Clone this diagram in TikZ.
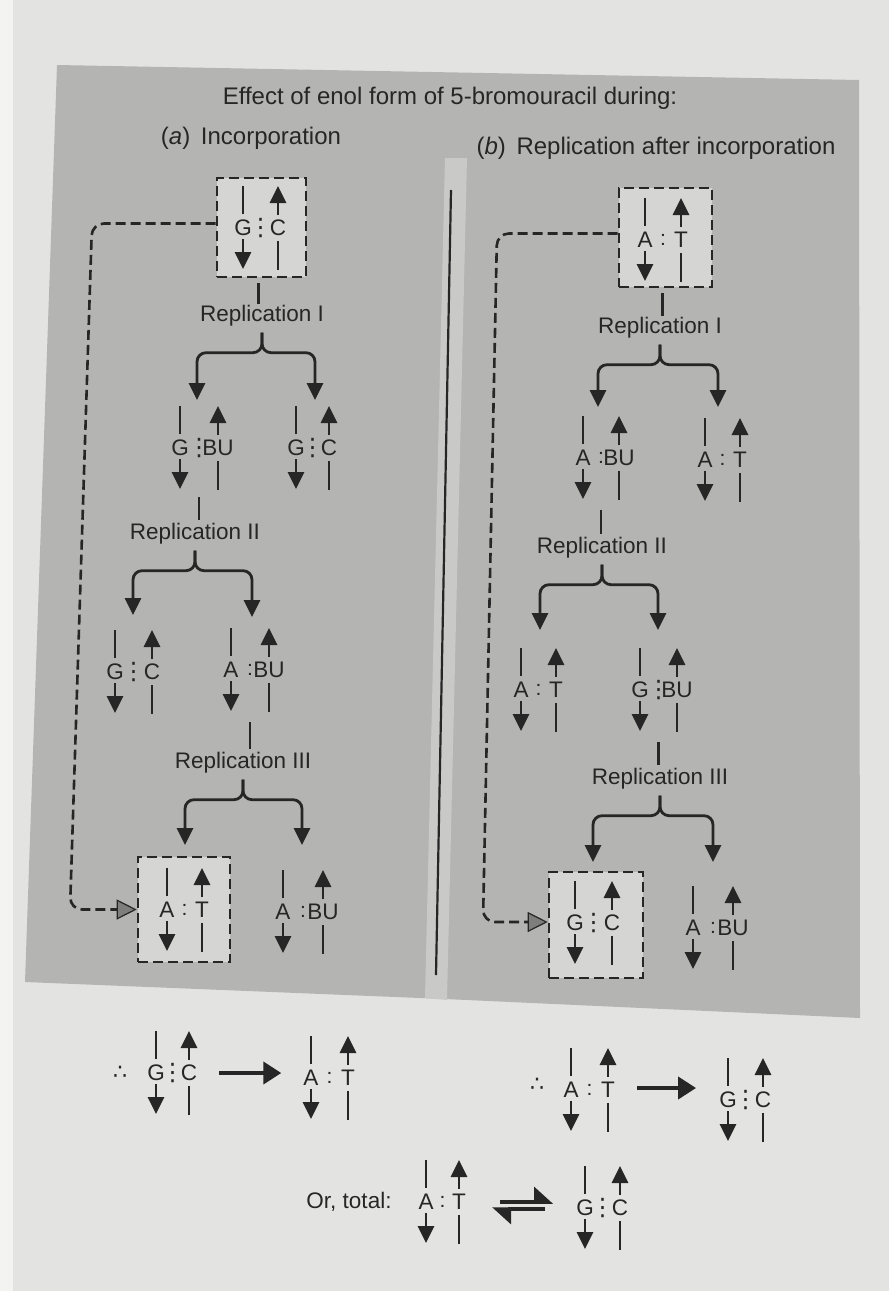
\documentclass[tikz,border=0pt]{standalone}
\usepackage{fontspec}
\setmainfont{Liberation Sans}
\newfontfamily\djv{DejaVu Sans}
\usetikzlibrary{arrows.meta,calc}
\definecolor{pagebg}{HTML}{E3E3E1}
\definecolor{marginbg}{HTML}{F3F3F2}
\definecolor{panelbg}{HTML}{B4B4B2}
\definecolor{stripbg}{HTML}{C9C9C7}
\definecolor{boxbg}{HTML}{D5D5D3}
\definecolor{ink}{HTML}{262626}
\definecolor{tipgray}{HTML}{7E7E7C}
\tikzset{
  letter/.style={inner sep=0pt, text=ink, font=\fontsize{22.5}{26}\selectfont},
  dotsn/.style={inner sep=0pt, text=ink},
  lbl/.style={inner sep=0pt, text=ink, font=\fontsize{22.5}{26}\selectfont},
  hdr/.style={inner sep=0pt, text=ink, font=\fontsize{24}{28}\selectfont},
  strand/.style={draw=ink, line width=2.8pt},
  tipd/.style={-{Triangle[length=17pt,width=16pt]}},
  bracearrow/.style={draw=ink, line width=2.8pt, rounded corners=9pt, -{Triangle[length=17pt,width=16pt]}},
  stemline/.style={draw=ink, line width=2.8pt},
  dbox/.style={draw=ink, line width=2.6pt, dash pattern=on 10pt off 5pt, fill=boxbg, inner sep=0pt},
  dconn/.style={draw=ink, line width=2.6pt, dash pattern=on 10pt off 5pt, rounded corners=12pt, -{Triangle[length=20pt,width=20pt,fill=tipgray,line width=1.2pt]}},
  bigarrow/.style={draw=ink, line width=4pt, -{Triangle[length=18pt,width=22pt]}},
  harp/.style={draw=ink, line width=3.5pt, -{Triangle[left,length=17pt,width=30pt]}},
}
\newcommand\tridots{{\djv\fontsize{24}{24}\selectfont ⋮}}
\newcommand\bidots{{\fontsize{21}{21}\selectfont :}}
% name, left x, right x, centre y, left letter, dots, right letter
\newcommand\bpair[7]{%
  \node[letter] (#1l) at (#2,#4) {#5};
  \node[dotsn] (#1c) at ({(#2+#3)/2},#4) {#6};
  \node[letter] (#1r) at (#3,#4) {#7};
  \draw[strand] ([yshift=14pt]#1l.center) -- ([yshift=42pt]#1l.center);
  \draw[strand,tipd] ([yshift=-11pt]#1l.center) -- ([yshift=-41pt]#1l.center);
  \draw[strand,tipd] ([yshift=13pt]#1r.center) -- ([yshift=42pt]#1r.center);
  \draw[strand] ([yshift=-13pt]#1r.center) -- ([yshift=-42pt]#1r.center);
}
\begin{document}
\begin{tikzpicture}[x=1pt,y=-1pt]
\useasboundingbox (0,0) rectangle (889,1291);
% backgrounds
\fill[pagebg] (0,0) rectangle (889,1291);
\fill[marginbg] (0,0) rectangle (13,1291);
\fill[panelbg] (57,65) -- (859,80) -- (860,1018) -- (445,999) -- (25,982) -- cycle;
\fill[stripbg] (445,158) -- (467,158) -- (447,1000) -- (425,998) -- cycle;
\draw[ink, line width=2.2pt] (451,190) -- (436,975);

% header
\node[hdr] (title) at (450,98) {Effect of enol form of 5-bromouracil during:};
\node[hdr] (ha) at (251,138) {(\textit{a})\, Incorporation};
\node[hdr] (hb) at (656,148) {(\textit{b})\, Replication after incorporation};

% dashed boxes
\node[dbox, minimum width=89pt, minimum height=99pt] (L1) at (261.5,227.5) {};
\node[dbox, minimum width=92pt, minimum height=105pt] (L3) at (184,909.5) {};
\node[dbox, minimum width=93pt, minimum height=99pt] (R1) at (665.5,237.5) {};
\node[dbox, minimum width=94pt, minimum height=106pt] (R3) at (596,925) {};

% ---- left column (a)
\bpair{La}{243}{278}{228}{G}{\tridots}{C}
\node[lbl] (LI) at (262,316) {Replication I};
\coordinate (tLa) at (197,400);
\coordinate (tLb) at (315,400);
\bpair{Lb}{180}{218}{448}{G}{\tridots}{BU}
\bpair{Lc}{296}{329}{448}{G}{\tridots}{C}
\node[lbl] (LII) at (195,534) {Replication II};
\coordinate (tLc) at (133,615);
\coordinate (tLd) at (252,617);
\bpair{Ld}{115}{152}{672}{G}{\tridots}{C}
\bpair{Le}{231}{269}{670}{A}{\bidots}{BU}
\node[lbl] (LIII) at (243,763) {Replication III};
\coordinate (tLe) at (185,845);
\coordinate (tLf) at (302,845);
\bpair{Lf}{167}{202}{910}{A}{\bidots}{T}
\bpair{Lg}{283}{323}{912}{A}{\bidots}{BU}

\draw[stemline] ($(L1.south)+(-3,5)$) -- ($(L1.south |- LI.north)+(-3,-1)$);
\draw[bracearrow] ($(LI.south)+(0,6)$) -- ++(0,20) -| (tLa);
\draw[bracearrow] ($(LI.south)+(0,6)$) -- ++(0,20) -| (tLb);
\draw[stemline] ($(Lbc)+(0,49)$) -- ($(Lbc |- LII.north)+(0,-3)$);
\draw[bracearrow] ($(LII.south)+(0,6)$) -- ++(0,20) -| (tLc);
\draw[bracearrow] ($(LII.south)+(0,6)$) -- ++(0,20) -| (tLd);
\draw[stemline] ($(Lec)+(0,52)$) -- ($(Lec |- LIII.north)+(0,-3)$);
\draw[bracearrow] ($(LIII.south)+(0,6)$) -- ++(0,20) -| (tLe);
\draw[bracearrow] ($(LIII.south)+(0,6)$) -- ++(0,20) -| (tLf);

\coordinate (cLa) at (92,223.5);
\coordinate (cLb) at (70,909.5);
\draw[dconn] ([yshift=4pt]L1.west) -- (cLa) -- (cLb) -- (L3.west);

% ---- right column (b)
\bpair{Ra}{645}{681}{240}{A}{\bidots}{T}
\node[lbl] (RI) at (660,328) {Replication I};
\coordinate (tRa) at (598,407);
\coordinate (tRb) at (718,407);
\bpair{Rb}{583}{619}{458}{A}{\bidots}{BU}
\bpair{Rc}{705}{740}{460}{A}{\bidots}{T}
\node[lbl] (RII) at (602,548) {Replication II};
\coordinate (tRc) at (540,630);
\coordinate (tRd) at (658,630);
\bpair{Rd}{521}{556}{690}{A}{\bidots}{T}
\bpair{Re}{640}{677}{690}{G}{\tridots}{BU}
\node[lbl] (RIII) at (660,779) {Replication III};
\coordinate (tRe) at (593,862);
\coordinate (tRf) at (713,862);
\bpair{Rf}{575}{612}{923}{G}{\tridots}{C}
\bpair{Rg}{693}{733}{928}{A}{\bidots}{BU}

\draw[stemline] ($(R1.south)+(-3,5)$) -- ($(R1.south |- RI.north)+(-3,-1)$);
\draw[bracearrow] ($(RI.south)+(0,6)$) -- ++(0,20) -| (tRa);
\draw[bracearrow] ($(RI.south)+(0,6)$) -- ++(0,20) -| (tRb);
\draw[stemline] ($(Rbc)+(0,52)$) -- ($(Rbc |- RII.north)+(0,-3)$);
\draw[bracearrow] ($(RII.south)+(0,6)$) -- ++(0,20) -| (tRc);
\draw[bracearrow] ($(RII.south)+(0,6)$) -- ++(0,20) -| (tRd);
\draw[stemline] ($(Rec)+(0,52)$) -- ($(Rec |- RIII.north)+(0,-3)$);
\draw[bracearrow] ($(RIII.south)+(0,6)$) -- ++(0,20) -| (tRe);
\draw[bracearrow] ($(RIII.south)+(0,6)$) -- ++(0,20) -| (tRf);

\coordinate (cRa) at (497,233.5);
\coordinate (cRb) at (483,922);
\draw[dconn] ([yshift=4pt]R1.west) -- (cRa) -- (cRb) -- ([yshift=3pt]R3.west);

% ---- bottom summary
\node[dotsn, font=\djv\fontsize{22}{22}\selectfont] (thL) at (120,1073) {∴};
\bpair{Ba}{156}{189}{1073}{G}{\tridots}{C}
\bpair{Bb}{311}{348}{1078}{A}{\bidots}{T}
\draw[bigarrow] ($(Bar.east)+(22,0)$) -- ($(Bbl.west |- Bar.east)+(-22,0)$);

\node[dotsn, font=\djv\fontsize{22}{22}\selectfont] (thR) at (537,1085) {∴};
\bpair{Bc}{571}{608}{1090}{A}{\bidots}{T}
\bpair{Bd}{728}{763}{1100}{G}{\tridots}{C}
\draw[bigarrow] ($(Bcr.east)+(22,-2)$) -- ($(Bdl.west |- Bcr.east)+(-23,-2)$);

\node[lbl] (ortotal) at (349,1202) {Or, total:};
\bpair{Be}{426}{459}{1202}{A}{\bidots}{T}
\bpair{Bf}{585}{620}{1208}{G}{\tridots}{C}
\draw[harp] ($(Ber.east)+(34,0)$) -- ($(Bfl.west |- Ber.east)+(-23,0)$);
\draw[harp] ($(Bfl.west |- Ber.east)+(-31,7)$) -- ($(Ber.east)+(26,7)$);
\end{tikzpicture}
\end{document}
